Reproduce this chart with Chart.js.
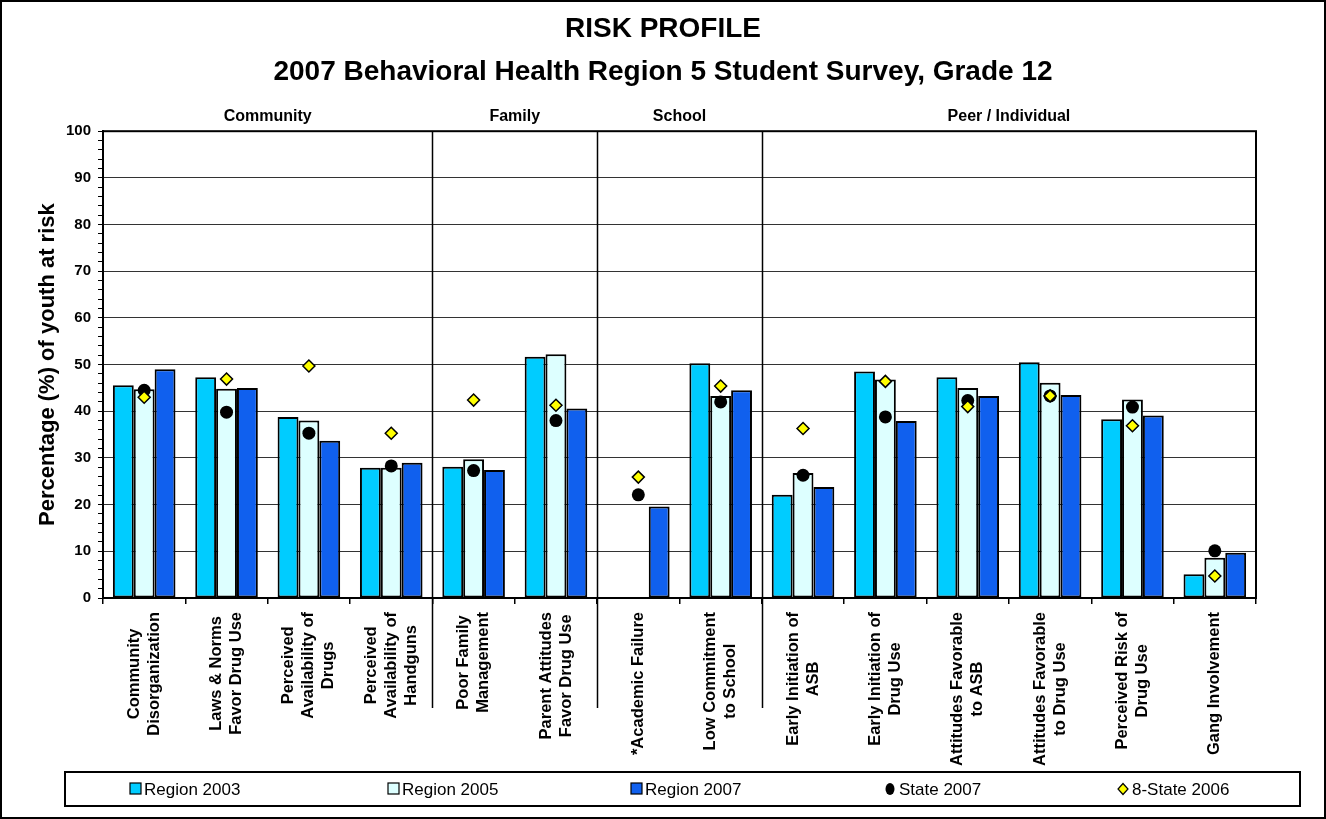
<!DOCTYPE html>
<html>
<head>
<meta charset="utf-8">
<title>Risk Profile</title>
<script src="https://cdn.jsdelivr.net/npm/chart.js@4/dist/chart.umd.min.js"></script>
<style>
  html, body { margin: 0; padding: 0; background: #fff; }
  #wrap { width: 1326px; height: 819px; position: relative; }
</style>
</head>
<body>
<div id="wrap"><canvas id="riskChart"></canvas></div>
<script>
// categories (multi-line labels as drawn under the axis)
const categories = [
    ['Community', 'Disorganization'],
    ['Laws & Norms', 'Favor Drug Use'],
    ['Perceived', 'Availability of', 'Drugs'],
    ['Perceived', 'Availability of', 'Handguns'],
    ['Poor Family', 'Management'],
    ['Parent Attitudes', 'Favor Drug Use'],
    ['*Academic Failure'],
    ['Low Commitment', 'to School'],
    ['Early Initiation of', 'ASB'],
    ['Early Initiation of', 'Drug Use'],
    ['Attitudes Favorable', 'to ASB'],
    ['Attitudes Favorable', 'to Drug Use'],
    ['Perceived Risk of', 'Drug Use'],
    ['Gang Involvement']
];
const sections = ['Community', 'Family', 'School', 'Peer / Individual'];
const sectionSizes = [4, 2, 2, 6];

const seriesNames = ['Region 2003', 'Region 2005', 'Region 2007', 'State 2007', '8-State 2006'];
const region2003 = [45.6, 47.3, 38.8, 27.9, 28.1, 51.7, null, 50.3, 22.1, 48.5, 47.3, 50.5, 38.3, 5.1];
const region2005 = [44.7, 44.8, 38.0, 27.9, 29.7, 52.2, null, 43.3, 26.8, 46.8, 45.0, 46.1, 42.5, 8.6];
const region2007 = [49.0, 45.0, 33.7, 29.0, 27.4, 40.6, 19.6, 44.5, 23.8, 37.9, 43.3, 43.5, 39.1, 9.7];
const state2007 = [44.5, 39.8, 35.3, 28.3, 27.3, 38.0, 22.1, 42.0, 26.3, 38.8, 42.3, 43.3, 40.9, 10.1];
const eightState2006 = [43.0, 46.9, 49.7, 35.3, 42.4, 41.3, 25.9, 45.4, 36.3, 46.4, 41.0, 43.3, 36.9, 4.7];

const yMin = 0, yMax = 100, yMinorStep = 2, yMajorStep = 10;

const FONT = '"Liberation Sans", Arial, Helvetica, sans-serif';
const legendX = [130, 388, 631, 885, 1118];

(function () {
    const ctx = document.getElementById('riskChart').getContext('2d');

    const barSet = (label, data, color) => ({
        type: 'bar',
        label,
        data,
        backgroundColor: color,
        borderColor: '#000',
        borderWidth: 2,
        borderSkipped: false,
        barPercentage: 1,
        categoryPercentage: 0.76,
        order: 2
    });

    const decorations = {
        id: 'decorations',
        afterDraw(chart) {
            const { ctx, chartArea: area, scales: { x } } = chart;
            ctx.save();
            ctx.strokeStyle = '#000';
            ctx.fillStyle = '#000';

            // plot frame
            ctx.lineWidth = 2;
            ctx.strokeRect(area.left, area.top, area.right - area.left, area.bottom - area.top);

            // section headings + separators
            ctx.font = `bold 16px ${FONT}`;
            ctx.textAlign = 'center';
            ctx.textBaseline = 'middle';
            let start = 0;
            sections.forEach((name, i) => {
                const end = start + sectionSizes[i] - 1;
                const mid = (x.getPixelForValue(start) + x.getPixelForValue(end)) / 2;
                ctx.fillText(name, mid, area.top - 15);
                if (end < categories.length - 1) {
                    const sx = Math.round((x.getPixelForValue(end) + x.getPixelForValue(end + 1)) / 2) + 0.5;
                    ctx.lineWidth = 1.5;
                    ctx.beginPath();
                    ctx.moveTo(sx, area.top);
                    ctx.lineTo(sx, area.bottom + 110);
                    ctx.stroke();
                }
                start = end + 1;
            });

            // category labels, rotated, lines centred on each other
            ctx.font = `bold 16.5px ${FONT}`;
            categories.forEach((lines, i) => {
                const cx = x.getPixelForValue(i);
                const maxW = Math.max(...lines.map(l => ctx.measureText(l).width));
                const cy = area.bottom + 14 + maxW / 2;
                lines.forEach((line, j) => {
                    ctx.save();
                    ctx.translate(cx + (j - (lines.length - 1) / 2) * 20, cy);
                    ctx.rotate(-Math.PI / 2);
                    ctx.fillText(line, 0, 0);
                    ctx.restore();
                });
            });

            // legend box
            ctx.lineWidth = 2;
            ctx.strokeRect(65, 772, 1235, 34);
            ctx.font = `17px ${FONT}`;
            ctx.textAlign = 'left';
            const ly = 789;
            chart.data.datasets.forEach((ds, i) => {
                const lx = legendX[i];
                ctx.lineWidth = 1.2;
                ctx.strokeStyle = '#000';
                if (ds.type === 'bar') {
                    ctx.fillStyle = ds.backgroundColor;
                    ctx.fillRect(lx, ly - 6, 11, 11);
                    ctx.strokeRect(lx, ly - 6, 11, 11);
                } else if (ds.pointStyle === 'circle') {
                    ctx.fillStyle = ds.pointBackgroundColor;
                    ctx.beginPath();
                    ctx.ellipse(lx + 5, ly, 4.5, 6, 0, 0, Math.PI * 2);
                    ctx.fill();
                } else {
                    ctx.fillStyle = ds.pointBackgroundColor;
                    ctx.beginPath();
                    ctx.moveTo(lx + 5, ly - 5.5);
                    ctx.lineTo(lx + 10, ly);
                    ctx.lineTo(lx + 5, ly + 5.5);
                    ctx.lineTo(lx, ly);
                    ctx.closePath();
                    ctx.fill();
                    ctx.stroke();
                }
                ctx.fillStyle = '#000';
                ctx.fillText(ds.label, lx + 14, ly + 1);
            });

            // outer border
            ctx.lineWidth = 2;
            ctx.strokeRect(1, 1, chart.width - 2, chart.height - 2);
            ctx.restore();
        }
    };

    new Chart(ctx, {
        data: {
            labels: categories,
            datasets: [
                barSet(seriesNames[0], region2003, '#00CCFF'),
                barSet(seriesNames[1], region2005, '#DDFFFF'),
                barSet(seriesNames[2], region2007, '#1060EE'),
                {
                    type: 'line',
                    label: seriesNames[3],
                    data: state2007,
                    showLine: false,
                    pointStyle: 'circle',
                    pointRadius: 6.5,
                    pointBackgroundColor: '#000',
                    pointBorderColor: '#000',
                    pointBorderWidth: 0,
                    order: 1
                },
                {
                    type: 'line',
                    label: seriesNames[4],
                    data: eightState2006,
                    showLine: false,
                    pointStyle: 'rectRot',
                    pointRadius: 6,
                    pointBackgroundColor: '#FFFF00',
                    pointBorderColor: '#000',
                    pointBorderWidth: 1.5,
                    order: 0
                }
            ]
        },
        options: {
            responsive: true,
            maintainAspectRatio: false,
            animation: false,
            layout: { padding: 0 },
            plugins: {
                legend: { display: false },
                tooltip: { enabled: false },
                title: {
                    display: true,
                    text: 'RISK PROFILE',
                    color: '#000',
                    font: { family: FONT, size: 28, weight: 'bold' },
                    padding: { top: 12, bottom: 0 }
                },
                subtitle: {
                    display: true,
                    text: '2007 Behavioral Health Region 5 Student Survey, Grade 12',
                    color: '#000',
                    font: { family: FONT, size: 28, weight: 'bold' },
                    padding: { top: 10, bottom: 42 }
                }
            },
            scales: {
                x: {
                    offset: true,
                    grid: { offset: true, drawOnChartArea: false, drawTicks: true, tickLength: 6, color: '#000', lineWidth: 1.5 },
                    ticks: { display: false },
                    border: { color: '#000', width: 2 },
                    afterFit: (scale) => { scale.height = 221; }
                },
                y: {
                    min: yMin,
                    max: yMax,
                    ticks: {
                        stepSize: yMinorStep,
                        autoSkip: false,
                        padding: 7,
                        color: '#000',
                        font: { family: FONT, size: 15, weight: 'bold' },
                        callback: (v) => (v % yMajorStep === 0 ? v : '')
                    },
                    grid: {
                        color: (c) => (c.tick && c.tick.value % yMajorStep === 0 ? '#333' : 'rgba(0,0,0,0)'),
                        tickColor: '#000',
                        tickLength: 5,
                        lineWidth: 1
                    },
                    border: { color: '#000', width: 2 },
                    title: {
                        display: true,
                        text: 'Percentage (%) of youth at risk',
                        color: '#000',
                        font: { family: FONT, size: 22, weight: 'bold' },
                        padding: { top: 35, bottom: 0 }
                    },
                    afterFit: (scale) => { scale.width = 103; }
                },
                // empty right margin so the titles centre on the whole canvas
                margin: {
                    type: 'linear',
                    position: 'right',
                    grid: { display: false },
                    ticks: { display: false },
                    border: { display: false },
                    afterFit: (scale) => { scale.width = 70; }
                }
            }
        },
        plugins: [decorations]
    });
})();
</script>
</body>
</html>
